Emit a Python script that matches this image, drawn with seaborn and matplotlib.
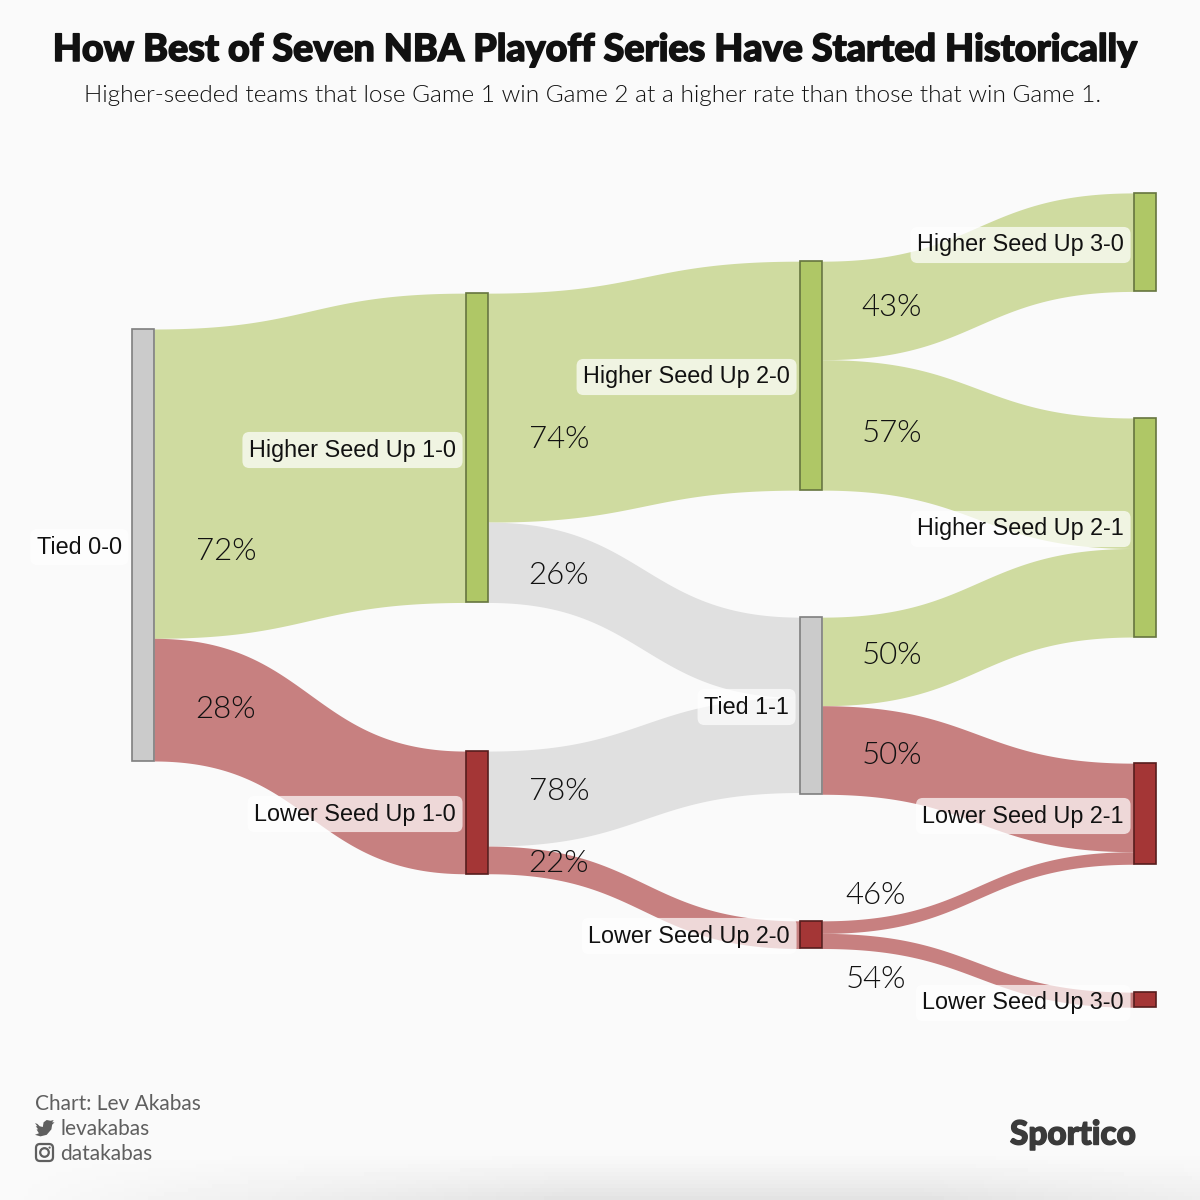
import numpy as np
import pandas as pd
import seaborn as sns
from matplotlib import font_manager as fm
from matplotlib import patheffects as pe
from matplotlib import pyplot as plt
from matplotlib.patches import Circle, FancyBboxPatch, Polygon

# nodes, shares are % of all series
node_names = ["Tied 0-0", "Higher Seed Up 1-0", "Lower Seed Up 1-0", "Higher Seed Up 2-0", "Tied 1-1",
              "Lower Seed Up 2-0", "Higher Seed Up 3-0", "Higher Seed Up 2-1", "Lower Seed Up 2-1",
              "Lower Seed Up 3-0"]
node_columns = [0, 1, 1, 2, 2, 2, 3, 3, 3, 3]
node_offsets = [0, -8.3, 97.7, -15.7, 66.7, 137.0, -31.5, 20.6, 100.5, 153.5]
node_kinds = ["tied", "high", "low", "high", "tied", "low", "high", "high", "low", "low"]

flow_sources = [0, 0, 1, 1, 2, 2, 3, 3, 4, 4, 5, 5]
flow_targets = [1, 2, 3, 4, 4, 5, 6, 7, 7, 8, 8, 9]
flow_shares = [71.6, 28.4, 53.0, 18.6, 22.0, 6.4, 22.8, 30.2, 20.5, 20.5, 2.9, 3.5]
flow_labels = ["72%", "28%", "74%", "26%", "78%", "22%", "43%", "57%", "50%", "50%", "46%", "54%"]
flow_kinds = ["high", "low", "high", "tied", "tied", "low", "high", "high", "high", "low", "low", "low"]

FLOW_COLORS = {"high": "#cfdba0", "low": "#c78080", "tied": "#e0e0e0"}
NODE_COLORS = {"high": "#afc766", "low": "#a43636", "tied": "#cbcbcb"}
EDGE_COLORS = {"high": "#66753f", "low": "#571d1d", "tied": "#7f7f7f"}
COLUMN_X = [143, 477, 811, 1145]
NODE_WIDTH = 22
PX_PER_SHARE = 4.32
TOP_PX = 329

# label anchors in pixels of the picture
LABEL_XY = {"Tied 0-0": (122, 545), "Higher Seed Up 1-0": (456, 448), "Lower Seed Up 1-0": (456, 812),
            "Higher Seed Up 2-0": (790, 375), "Tied 1-1": (789, 705), "Lower Seed Up 2-0": (790, 934),
            "Higher Seed Up 3-0": (1124, 243), "Higher Seed Up 2-1": (1124, 527),
            "Lower Seed Up 2-1": (1124, 814), "Lower Seed Up 3-0": (1124, 1001)}
PERCENT_XY = [(226, 549), (226, 707), (559, 437), (559, 574), (559, 790), (559, 861), (892, 305), (892, 432),
              (892, 654), (892, 753), (876, 894), (876, 977)]


def lato(style, size):
    """the weights of Lato do not resolve by name, so look the file up"""
    for font in fm.fontManager.ttflist:
        if f"Lato-{style}." in font.fname:
            return fm.FontProperties(fname=font.fname, size=size)
    return fm.FontProperties(family="Lato", size=size)


def draw_flow(ax, x0, x1, y0, y1, share, color):
    t = np.linspace(0, 1, 120)
    x = x0 + (x1 - x0) * (1.5 * t * (1 - t) ** 2 + 1.5 * t ** 2 * (1 - t) + t ** 3)
    top = y0 + (y1 - y0) * (3 * t ** 2 - 2 * t ** 3)
    ax.fill_between(x, top, top + share, color=color, linewidth=0, zorder=1)


def draw_twitter(ax, x, y, color):
    pts = np.array([(0, 4), (3, 5), (6, 8), (10, 9), (11, 3), (15, 0), (20, 1), (24, 0), (22, 3), (25, 3), (22, 6),
                    (21, 12), (15, 19), (7, 21), (0, 19), (5, 17), (2, 12), (4, 12), (1, 8), (3, 8)], dtype=float)
    ax.add_patch(Polygon(pts * 0.78 + [x, y], closed=True, color=color, linewidth=0))


def draw_instagram(ax, x, y, color):
    ax.add_patch(FancyBboxPatch((x + 1, y + 1), 17, 17, boxstyle="round,pad=0,rounding_size=4", fill=False,
                                edgecolor=color, linewidth=1.6))
    ax.add_patch(Circle((x + 9.5, y + 9.5), 4.3, fill=False, edgecolor=color, linewidth=1.6))
    ax.add_patch(Circle((x + 14.6, y + 4.6), 1.1, color=color, linewidth=0))


if __name__ == "__main__":
    sns.set_theme(style="white")
    fig = plt.figure(figsize=(12, 12), dpi=100, facecolor="#fafafa")

    # soft shadow along the bottom edge
    bg = fig.add_axes([0, 0, 1, 1])
    yy, xx = np.mgrid[0:1:300j, 0:1:300j]
    shade = np.clip((yy - 0.96) / 0.04, 0, 1) ** 1.3 * np.clip(1.3 - 1.3 * np.abs(xx - 0.62) / 0.62, 0, 1)
    bg.imshow(0.98 - 0.09 * shade, cmap="gray", vmin=0, vmax=1, extent=(0, 1, 1, 0), aspect="auto")
    bg.set_axis_off()

    ax = fig.add_axes([0, 0, 1, 1])
    ax.patch.set_alpha(0)

    nodes = pd.DataFrame({"name": node_names, "column": node_columns, "offset": node_offsets, "kind": node_kinds})
    out_used = [0.0] * len(nodes)
    in_used = [0.0] * len(nodes)
    for src, dst, share, kind in zip(flow_sources, flow_targets, flow_shares, flow_kinds):
        x0 = COLUMN_X[node_columns[src]] + NODE_WIDTH / 2
        x1 = COLUMN_X[node_columns[dst]] - NODE_WIDTH / 2
        y0 = node_offsets[src] + out_used[src]
        y1 = node_offsets[dst] + in_used[dst]
        draw_flow(ax, x0, x1, y0, y1, share, FLOW_COLORS[kind])
        out_used[src] += share
        in_used[dst] += share
    nodes["height"] = [max(a, b) for a, b in zip(in_used, out_used)]

    for _, node in nodes.iterrows():
        sns.barplot(x=[COLUMN_X[node["column"]]], y=[node["height"]], bottom=node["offset"], native_scale=True,
                    width=NODE_WIDTH, color=NODE_COLORS[node["kind"]], saturation=1,
                    edgecolor=EDGE_COLORS[node["kind"]], linewidth=1.2, ax=ax, zorder=3)
    ax.set_xlim(0, 1200)
    ax.set_ylim((1200 - TOP_PX) / PX_PER_SHARE, -TOP_PX / PX_PER_SHARE)
    ax.set_axis_off()

    # pixel overlay for the text
    top = fig.add_axes([0, 0, 1, 1])
    top.set_xlim(0, 1200)
    top.set_ylim(1200, 0)
    top.set_axis_off()
    top.patch.set_alpha(0)

    title = top.text(594, 50, "How Best of Seven NBA Playoff Series Have Started Historically", ha="center",
                     va="center", fontproperties=lato("Black", 27.1), color="#111111")
    title.set_path_effects([pe.withStroke(linewidth=1.1, foreground="#111111")])
    top.text(593, 96, "Higher-seeded teams that lose Game 1 win Game 2 at a higher rate than those that win Game 1.",
             ha="center", va="center", fontproperties=lato("Light", 17.6), color="#111111")

    for name, (x, y) in LABEL_XY.items():
        top.text(x, y + 2, name, ha="right", va="center", family="Liberation Sans", fontsize=16.85, color="#111111",
                 bbox=dict(boxstyle="round,pad=0.28,rounding_size=0.3", facecolor="white", alpha=0.7, linewidth=0))
    for label, (x, y) in zip(flow_labels, PERCENT_XY):
        top.text(x, y + 2, label, ha="center", va="center", fontproperties=lato("Light", 22.5), color="#111111")

    foot = "#5f5f5f"
    top.text(35, 1104, "Chart: Lev Akabas", va="center", family="Lato", fontsize=15, color=foot)
    top.text(60, 1129, "levakabas", va="center", family="Lato", fontsize=15, color=foot)
    top.text(60, 1154, "datakabas", va="center", family="Lato", fontsize=15, color=foot)
    draw_twitter(top, 35, 1120, foot)
    draw_instagram(top, 35, 1143, foot)
    brand = top.text(1136, 1135, "Sportico", ha="right", va="center", fontproperties=lato("Black", 24),
                     color="#3a3a3a")
    brand.set_path_effects([pe.withStroke(linewidth=1.0, foreground="#3a3a3a")])

    fig.savefig("out.png", dpi=100, facecolor=fig.get_facecolor())
